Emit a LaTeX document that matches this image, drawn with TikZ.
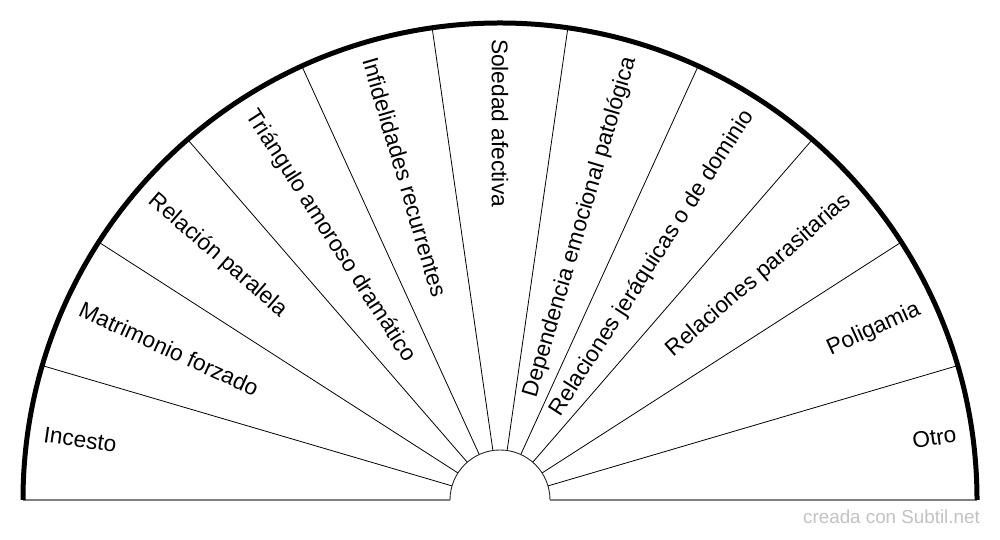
\documentclass[tikz,border=0pt]{standalone}
\usepackage{fontspec}
\setmainfont{Liberation Sans}
\usetikzlibrary{calc}
\begin{document}
\begin{tikzpicture}[x=1pt,y=1pt,
  divider/.style={black,line width=0.8pt},
  innerarc/.style={black!85,line width=0.9pt},
  baseln/.style={black!50,line width=1.6pt},
  rim/.style={black,line width=5pt},
  lbl/.style={inner sep=0pt,font=\fontsize{22.7}{26}\selectfont},
  wmark/.style={inner sep=0pt,text=black!24,font=\fontsize{18.8}{22}\selectfont,anchor=base east}]
\useasboundingbox (0,0) rectangle (1000,540);
\coordinate (C) at (500,40);
% baseline
\coordinate (BL) at (23,40);
\coordinate (IL) at (450,40);
\coordinate (IR) at (550,40);
\coordinate (BR) at (977,40);
\draw[baseln] (BL) -- (IL);
\draw[baseln] (IR) -- (BR);
% dividers
\foreach \k in {1,...,10}{
  \draw[divider] ($(C)+({\k*180/11}:50)$) -- ($(C)+({\k*180/11}:477)$);
}
% inner arc
\draw[innerarc] (IR) arc[start angle=0,end angle=180,radius=50];
% outer rim
\draw[rim] (BR) arc[start angle=0,end angle=180,radius=477];
% labels
\foreach \t [count=\i] in {Incesto,Matrimonio forzado,Relación paralela,Triángulo amoroso dramático,Infidelidades recurrentes,Soledad afectiva,Dependencia emocional patológica,Relaciones jeráquicas o de dominio,Relaciones parasitarias,Poligamia,Otro}{
  \pgfmathsetmacro{\a}{180-(\i-0.5)*180/11}
  \ifnum\i<7
    \node[lbl,anchor=west,rotate=\a-180] (L\i) at ($(C)+(\a:461)$) {\t};
  \else
    \node[lbl,anchor=east,rotate=\a] (L\i) at ($(C)+(\a:461)$) {\t};
  \fi
}
\node[wmark] (wm) at (980,16) {creada con Subtil.net};
\end{tikzpicture}
\end{document}
